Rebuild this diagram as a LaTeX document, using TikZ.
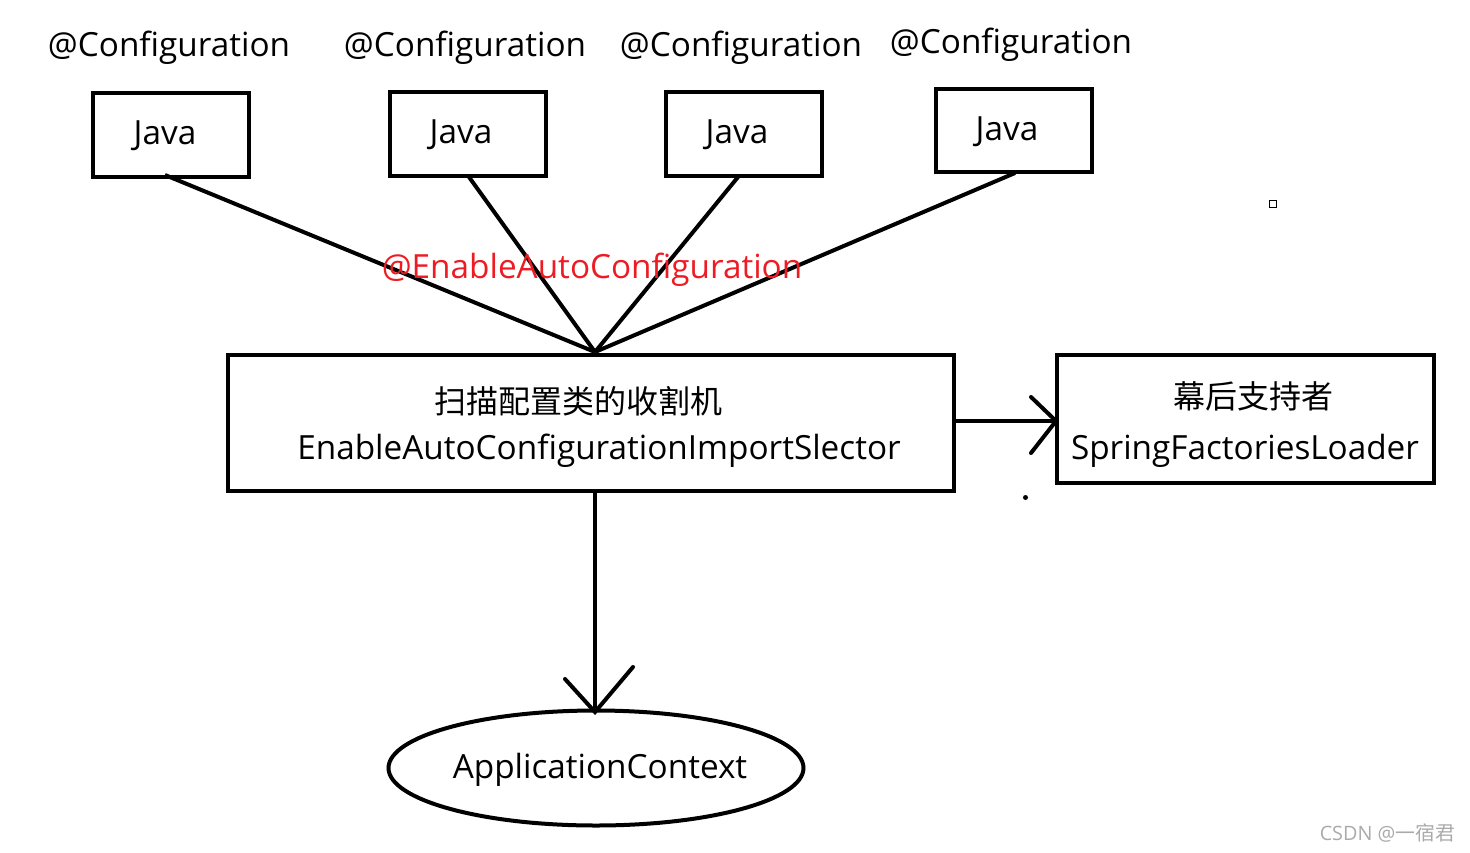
\documentclass[tikz,border=0pt]{standalone}
\usepackage{fontspec}
\setmainfont{Open Sans}
\newfontfamily\cjk{Noto Sans CJK SC}
\usetikzlibrary{shapes.geometric}
\begin{document}
\begin{tikzpicture}[x=1pt,y=-1pt,
  box/.style={draw,line width=4pt,inner sep=0pt},
  lbl/.style={font=\fontsize{33.3}{40}\selectfont,inner sep=0pt},
  clbl/.style={font=\cjk\fontsize{32}{38}\selectfont,inner sep=0pt},
  conn/.style={line width=4pt},
  headline/.style={line width=4pt,line cap=round}]
\useasboundingbox (0,0) rectangle (1470,852);
% Java boxes
\node[box,minimum width=156pt,minimum height=84pt] (j1) at (171,135) {};
\node[box,minimum width=156pt,minimum height=84pt] (j2) at (468,134) {};
\node[box,minimum width=156pt,minimum height=84pt] (j3) at (744,134) {};
\node[box,minimum width=156pt,minimum height=83pt] (j4) at (1014,130.5) {};
\node[lbl] (t1) at (165,136) {Java};
\node[lbl] (t2) at (461,135) {Java};
\node[lbl] (t3) at (737,135) {Java};
\node[lbl] (t4) at (1007,132) {Java};
% labels
\node[lbl] (c1) at (169,48) {@Configuration};
\node[lbl] (c2) at (465,48) {@Configuration};
\node[lbl] (c3) at (741,48) {@Configuration};
\node[lbl] (c4) at (1011,45) {@Configuration};
% main box
\node[box,minimum width=726pt,minimum height=136pt] (m) at (591,423) {};
\node[clbl] (m1) at (578,401) {扫描配置类的收割机};
\node[lbl] (m2) at (599,451) {EnableAutoConfigurationImportSlector};
% right box
\node[box,minimum width=377pt,minimum height=128pt] (r) at (1245.5,419) {};
\node[clbl] (r1) at (1253,396) {幕后支持者};
\node[lbl] (r2) at (1245,451) {SpringFactoriesLoader};
% ellipse
\node[draw,ellipse,line width=4pt,minimum width=415pt,minimum height=115pt,inner sep=0pt] (e) at (596,768) {};
\node[lbl] (et) at (600,770) {ApplicationContext};
% converging lines
\coordinate (hub) at (595,352);
\coordinate (b1) at (165,175);
\coordinate (b2) at (469,177);
\coordinate (b3) at (738,177);
\coordinate (b4) at (1015,173);
\draw[conn] (b1) -- (hub);
\draw[conn] (b2) -- (hub);
\draw[conn] (b3) -- (hub);
\draw[conn] (b4) -- (hub);
\node[lbl,text={rgb,255:red,237;green,28;blue,36}] (red) at (592,270) {@EnableAutoConfiguration};
% right arrow
\coordinate (ra) at (954,421);
\coordinate (rb) at (1056,421);
\coordinate (rh1) at (1031,397);
\coordinate (rh2) at (1031,453);
\draw[conn] (ra) -- (rb);
\draw[headline] (rh1) -- (rb) -- (rh2);
% down arrow
\coordinate (da) at (595,491);
\coordinate (db) at (595,712);
\coordinate (dh1) at (565,679);
\coordinate (dh2) at (633,667);
\draw[conn] (da) -- (db);
\draw[headline] (dh1) -- (db) -- (dh2);
% small marks
\draw[line width=1.5pt] (1269.5,200.5) rectangle (1276.5,207.5);
\fill (1025.5,497.5) circle (2.5pt);
% watermark
\node[font=\fontsize{19.8}{22}\selectfont,text={rgb,255:red,170;green,170;blue,170},anchor=east,inner sep=0pt] (wm) at (1455,833) {CSDN @{\cjk 一宿君}};
\end{tikzpicture}
\end{document}
